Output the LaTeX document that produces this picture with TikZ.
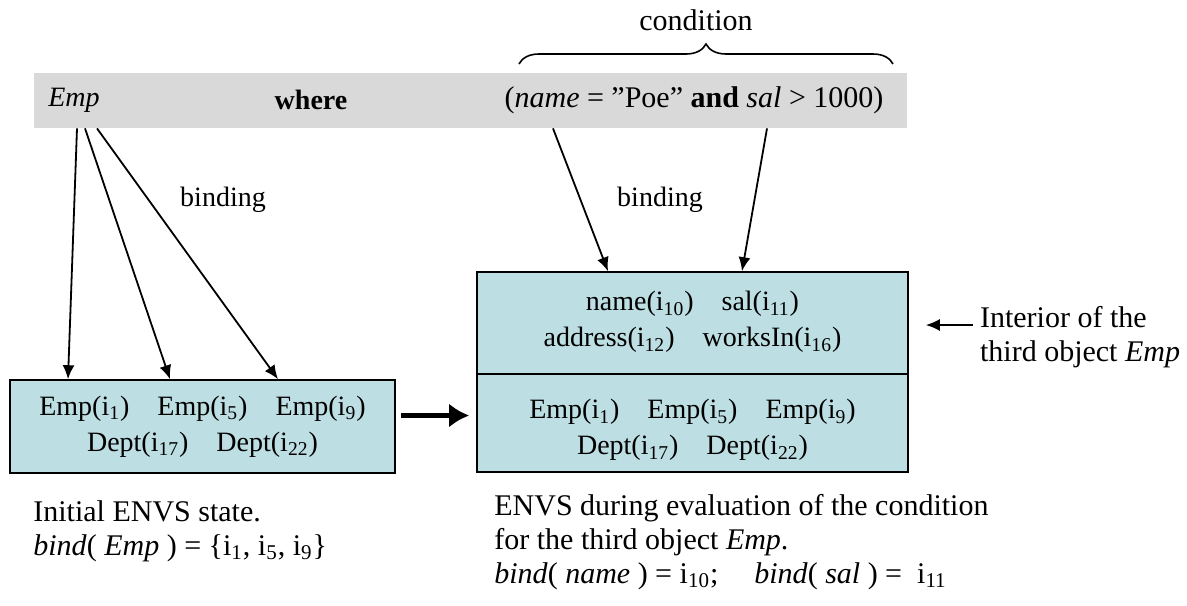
\documentclass[tikz,border=0pt]{standalone}
\usepackage{fontspec}
\setmainfont{Liberation Serif}
\usetikzlibrary{calc,arrows.meta,decorations.pathreplacing}

\definecolor{envfill}{RGB}{189,222,226}
\definecolor{bandgray}{RGB}{217,217,217}

\begin{document}
\begin{tikzpicture}[x=0.5pt,y=-0.5pt,
    font=\fontsize{14}{18}\selectfont,
    >={Latex[length=7pt,width=6pt]}]
  \tikzset{BandStyle/.style={fill=bandgray,inner sep=0pt,
             minimum width=436.5pt,minimum height=27.5pt},
           EnvStyle/.style={draw,line width=0.8pt,fill=envfill,align=center},
           BindStyle/.style={->,line width=0.9pt},
           WideStyle/.style={font=\fontsize{15}{17}\selectfont},
           CaptionStyle/.style={WideStyle,align=left,anchor=north west,inner sep=0pt}}
  \useasboundingbox (0,0) rectangle (1187,605);

  % query
  \node[BandStyle] (band) at (470.5,100.5) {};
  \node (emp) at (74,100) {\textit{Emp}};
  \node (where) at (311,100) {\textbf{where}};
  \node[WideStyle] (cond) at (694,100) {(\textit{name} = ”Poe” \textbf{and} \textit{sal} > 1000)};
  \node[WideStyle] (condlbl) at (696,20) {condition};
  \draw[decorate,decoration={brace,amplitude=10pt},line width=0.8pt]
    (519,64) -- (893,64);

  % ENVS
  \node[EnvStyle,minimum width=192.5pt,minimum height=46.5pt] (envL) at (202.5,426.5)
    {Emp(i\textsubscript{1})\hspace{1em}Emp(i\textsubscript{5})\hspace{1em}Emp(i\textsubscript{9})\\
     Dept(i\textsubscript{17})\hspace{1em}Dept(i\textsubscript{22})};
  \node[EnvStyle,minimum width=215.5pt,minimum height=100pt] (envR) at (692.5,372) {};
  \node[align=center] (attrs) at (692.5,322)
    {name(i\textsubscript{10})\hspace{1em}sal(i\textsubscript{11})\\
     address(i\textsubscript{12})\hspace{1em}worksIn(i\textsubscript{16})};
  \node[align=center] (objs) at (692.5,430)
    {Emp(i\textsubscript{1})\hspace{1em}Emp(i\textsubscript{5})\hspace{1em}Emp(i\textsubscript{9})\\
     Dept(i\textsubscript{17})\hspace{1em}Dept(i\textsubscript{22})};
  \draw[line width=0.8pt] (envR.west |- 0,374) -- (envR.east |- 0,374);
  \draw[line width=2.5pt,-{Latex[length=10pt,width=12pt]}]
    ($(envL.east)+(5,-11)$) -- ($(envR.west |- envL.east)+(-7,-11)$);

  % binding
  \draw[BindStyle] ($(emp.south |- band.south)+(3,0)$) -- ($(envL.north)+(-134.5,0)$);
  \draw[BindStyle] ($(emp.south |- band.south)+(11,0)$) -- ($(envL.north)+(-32.5,0)$);
  \draw[BindStyle] ($(emp.south |- band.south)+(23,0)$) -- ($(envL.north)+(75.5,0)$);
  \node (bindL) at (223,200) {binding};
  \draw[BindStyle] ($(cond.south |- band.south)+(-141,0)$) -- ($(envR.north)+(-84.5,0)$);
  \draw[BindStyle] ($(cond.south |- band.south)+(73,0)$) -- ($(envR.north)+(49.5,0)$);
  \node (bindR) at (660,200) {binding};

  % interior
  \node[WideStyle,align=left,anchor=west] (interior) at (973,337)
    {Interior of the\\third object \textit{Emp}};
  \draw[BindStyle] (interior.west |- 0,325) -- ($(envR.east |- 0,325)+(17,0)$);

  % captions
  \node[CaptionStyle] (capL) at (33,500)
    {Initial ENVS state.\\
     \textit{bind}( \textit{Emp} ) = \{i\textsubscript{1}, i\textsubscript{5}, i\textsubscript{9}\}};
  \node[CaptionStyle] (capR) at (494,494)
    {ENVS during evaluation of the condition\\
     for the third object \textit{Emp}.\\
     \textit{bind}( \textit{name} ) = i\textsubscript{10};\hspace{1.2em}\textit{bind}( \textit{sal} ) = \ i\textsubscript{11}};
\end{tikzpicture}
\end{document}
